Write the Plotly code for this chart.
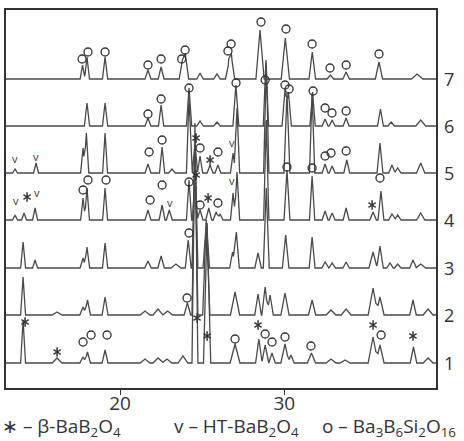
import numpy as np
import plotly.graph_objects as go

# ---------------- data (2-theta, deg ; intensity, arb. units) ----------------
sample_labels = ["1", "2", "3", "4", "5", "6", "7"]
offsets = [25, 73, 120, 168, 215, 262, 309]

# peaks: (2theta, height, half-width)
peaks_1 = [(14.10, 43, .15), (16.17, 5, .3), (17.75, 6, .2), (18.02, 11, .18), (19.09, 13, .18),
           (21.52, 4, .3), (22.31, 5, .3), (22.86, 4, .3), (23.83, 7, .3), (24.56, 240, .18),
           (25.30, 140, .22), (27.00, 19, .3), (28.45, 24, .2), (28.83, 18, .2), (29.25, 10, .2),
           (30.04, 19, .25), (30.40, 8, .2), (31.65, 10, .25), (32.84, 4, .3), (33.70, 3, .3),
           (35.40, 26, .3), (35.82, 18, .25), (37.86, 16, .2), (38.75, 5, .3)]
peaks_2 = [(14.10, 38, .15), (16.17, 3, .3), (17.75, 8, .2), (18.02, 15, .18), (19.09, 18, .18),
           (21.52, 4, .3), (22.31, 6, .3), (22.90, 4, .3), (24.10, 12, .2), (24.56, 180, .18),
           (25.25, 95, .22), (27.00, 23, .28), (28.40, 21, .2), (28.83, 28, .2), (29.13, 20, .2),
           (30.04, 22, .25), (31.69, 15, .22), (32.84, 5, .3), (33.76, 6, .3), (35.40, 27, .3),
           (35.82, 18, .25), (37.83, 15, .2), (38.75, 6, .3)]
peaks_3 = [(14.10, 26, .15), (14.83, 8, .15), (17.75, 10, .18), (17.99, 21, .16), (19.09, 25, .16),
           (21.70, 7, .2), (22.50, 12, .2), (23.40, 4, .3), (24.15, 28, .18), (24.56, 120, .18),
           (25.25, 45, .2), (26.85, 16, .18), (27.08, 36, .18), (28.40, 15, .2), (28.90, 80, .18),
           (30.08, 33, .2), (31.69, 31, .18), (32.48, 6, .2), (32.91, 5, .2), (33.76, 6, .2),
           (35.40, 16, .25), (35.82, 22, .2), (36.43, 5, .2), (36.90, 4, .2), (37.83, 8, .2),
           (38.30, 4, .3)]
peaks_4 = [(13.61, 5, .15), (14.16, 7, .15), (14.83, 12, .15), (17.75, 22, .15), (17.99, 32, .15),
           (19.09, 32, .15), (21.70, 10, .18), (22.56, 15, .18), (23.00, 10, .18), (24.20, 40, .16),
           (24.56, 42, .16), (24.87, 10, .18), (25.40, 12, .18), (25.85, 8, .18), (26.09, 6, .18),
           (26.88, 27, .16), (27.12, 48, .16), (28.90, 100, .16), (30.16, 50, .18), (31.69, 44, .16),
           (32.48, 9, .18), (32.91, 7, .18), (33.76, 12, .18), (35.40, 8, .2), (35.88, 29, .18),
           (36.55, 6, .2), (36.90, 5, .2), (38.30, 7, .25)]
peaks_5 = [(13.61, 4, .15), (14.89, 10, .15), (17.75, 25, .15), (17.95, 40, .15), (19.09, 40, .15),
           (21.70, 9, .18), (22.56, 26, .16), (23.16, 4, .2), (24.20, 75, .16), (24.56, 30, .16),
           (24.87, 17, .16), (25.48, 8, .18), (25.96, 8, .18), (26.88, 20, .16), (27.12, 65, .16),
           (28.90, 110, .16), (30.16, 80, .18), (31.69, 80, .16), (32.48, 9, .18), (32.91, 7, .18),
           (33.80, 13, .18), (35.82, 30, .18), (36.55, 8, .2), (36.90, 5, .2), (38.30, 10, .25)]
peaks_6 = [(17.99, 23, .16), (19.09, 23, .16), (21.70, 8, .18), (22.50, 21, .16), (24.20, 38, .16),
           (24.87, 5, .2), (25.90, 4, .2), (27.05, 41, .18), (28.88, 66, .16), (30.04, 36, .18),
           (30.25, 34, .18), (31.72, 34, .16), (32.48, 7, .18), (32.91, 6, .18), (33.76, 8, .18),
           (35.85, 17, .18), (36.50, 4, .2), (38.30, 6, .3)]
peaks_7 = [(17.72, 14, .15), (17.99, 22, .15), (19.09, 22, .16), (21.70, 9, .18), (22.50, 12, .18),
           (23.80, 17, .2), (23.98, 24, .2), (24.87, 6, .2), (25.90, 5, .2), (26.62, 16, .2),
           (26.78, 22, .2), (28.52, 49, .25), (30.06, 41, .25), (31.70, 27, .2), (32.80, 4, .2),
           (33.76, 7, .2), (35.76, 17, .22), (38.08, 5, .35)]
all_peaks = [peaks_1, peaks_2, peaks_3, peaks_4, peaks_5, peaks_6, peaks_7]

# phase marks: (2theta, vertical position on the stacked intensity scale)
marks_Ba3B6Si2O16 = [
    (17.69, 329), (18.05, 336), (19.09, 336), (21.70, 323), (22.50, 329), (23.75, 329), (23.96, 338),
    (26.57, 337), (26.76, 344), (28.58, 366), (30.10, 359), (31.69, 344), (32.78, 320), (33.76, 323),
    (35.76, 334),
    (21.70, 274), (22.50, 289), (24.20, 300), (27.06, 305), (28.83, 308), (30.04, 303), (30.29, 299),
    (31.75, 297), (32.48, 280), (32.90, 275), (33.76, 277),
    (21.77, 236), (22.56, 248), (24.87, 240), (25.96, 236), (32.48, 232), (32.84, 235), (33.76, 237),
    (17.75, 198), (18.05, 208), (19.15, 208), (21.83, 188), (22.56, 203), (24.20, 206), (24.87, 183),
    (25.96, 185), (30.16, 221), (31.69, 220), (35.82, 210),
    (24.20, 155), (24.08, 90),
    (17.75, 46), (18.24, 53), (19.21, 53), (27.00, 49), (28.83, 54), (29.25, 46), (30.04, 51),
    (31.62, 42), (35.89, 53)]
marks_beta_BaB2O4 = [
    (14.22, 66), (16.17, 36), (24.69, 70), (25.30, 52), (28.40, 63), (35.40, 63), (37.83, 52),
    (14.34, 191), (24.63, 213), (25.36, 190), (35.34, 183),
    (24.63, 250), (25.48, 228)]
marks_HT_BaB2O4 = [
    (13.61, 230), (14.89, 232), (26.82, 246),
    (13.67, 188), (14.95, 196), (23.04, 186), (26.82, 208)]

legend_texts = ["\u2217 \u2013 \u03b2-BaB<sub>2</sub>O<sub>4</sub>",
                "v \u2013 HT-BaB<sub>2</sub>O<sub>4</sub>",
                "o \u2013 Ba<sub>3</sub>B<sub>6</sub>Si<sub>2</sub>O<sub>16</sub>"]

x_range = [13.06, 39.23]
x_ticks = [20, 30]

# ---------------- build figure ----------------
fig = go.Figure()
line_col = "#4a4a4a"
mark_col = "#333333"

for pk, off in zip(all_peaks, offsets):
    xs = {x_range[0], x_range[1]}
    for p, h, w in pk:
        xs.update([p - w, p, p + w])
    xs = np.array(sorted(xs))
    ys = np.full(xs.shape, float(off))
    for p, h, w in pk:
        ys += h * np.clip(1 - np.abs(xs - p) / w, 0, None)
    fig.add_trace(go.Scatter(x=xs, y=ys, mode="lines",
                             line=dict(color=line_col, width=1.3), hoverinfo="skip"))

fig.add_trace(go.Scatter(x=[m[0] for m in marks_Ba3B6Si2O16], y=[m[1] for m in marks_Ba3B6Si2O16],
                         mode="markers",
                         marker=dict(symbol="circle-open", size=8, color=mark_col,
                                     line=dict(width=1.3, color=mark_col)),
                         hoverinfo="skip"))

# six-armed asterisk built from two Y symbols
for sym in ["y-up-open", "y-down-open"]:
    fig.add_trace(go.Scatter(x=[m[0] for m in marks_beta_BaB2O4], y=[m[1] for m in marks_beta_BaB2O4],
                             mode="markers",
                             marker=dict(symbol=sym, size=6, color=mark_col,
                                         line=dict(width=1.5, color=mark_col)),
                             hoverinfo="skip"))

for x, y in marks_HT_BaB2O4:
    fig.add_annotation(x=x, y=y, xref="x", yref="y", text="v", showarrow=False,
                       font=dict(family="Open Sans", size=11, color=mark_col))

for lab, off in zip(sample_labels, offsets):
    fig.add_annotation(x=1.0, xanchor="left", xshift=6, y=off, xref="paper", yref="y",
                       text=lab, showarrow=False,
                       font=dict(family="Open Sans", size=18, color=mark_col))

legend_px = [-6, 166, 314]
for txt, px in zip(legend_texts, legend_px):
    fig.add_annotation(x=0, xanchor="left", xshift=px, y=0, yref="paper", yshift=-39,
                       yanchor="middle", xref="paper", showarrow=False, text=txt,
                       font=dict(family="Open Sans", size=19, color=mark_col))

fig.update_layout(
    width=464, height=441,
    margin=dict(l=6, r=28, t=10, b=53),
    paper_bgcolor="white", plot_bgcolor="white",
    showlegend=False,
    xaxis=dict(range=x_range, tickvals=x_ticks, ticks="outside", ticklen=5,
               tickcolor=mark_col, showline=True, linecolor=mark_col, linewidth=1.5,
               mirror=True, showgrid=False, zeroline=False, ticklabelstandoff=-8,
               tickfont=dict(family="Open Sans", size=19, color=mark_col)),
    yaxis=dict(range=[0, 378], showticklabels=False, ticks="", showline=True,
               linecolor=mark_col, linewidth=1.5, mirror=True, showgrid=False, zeroline=False),
)

fig.write_html("out.html", config={"displayModeBar": False},
               post_script="document.body.style.margin='0';document.body.style.overflow='hidden';")
